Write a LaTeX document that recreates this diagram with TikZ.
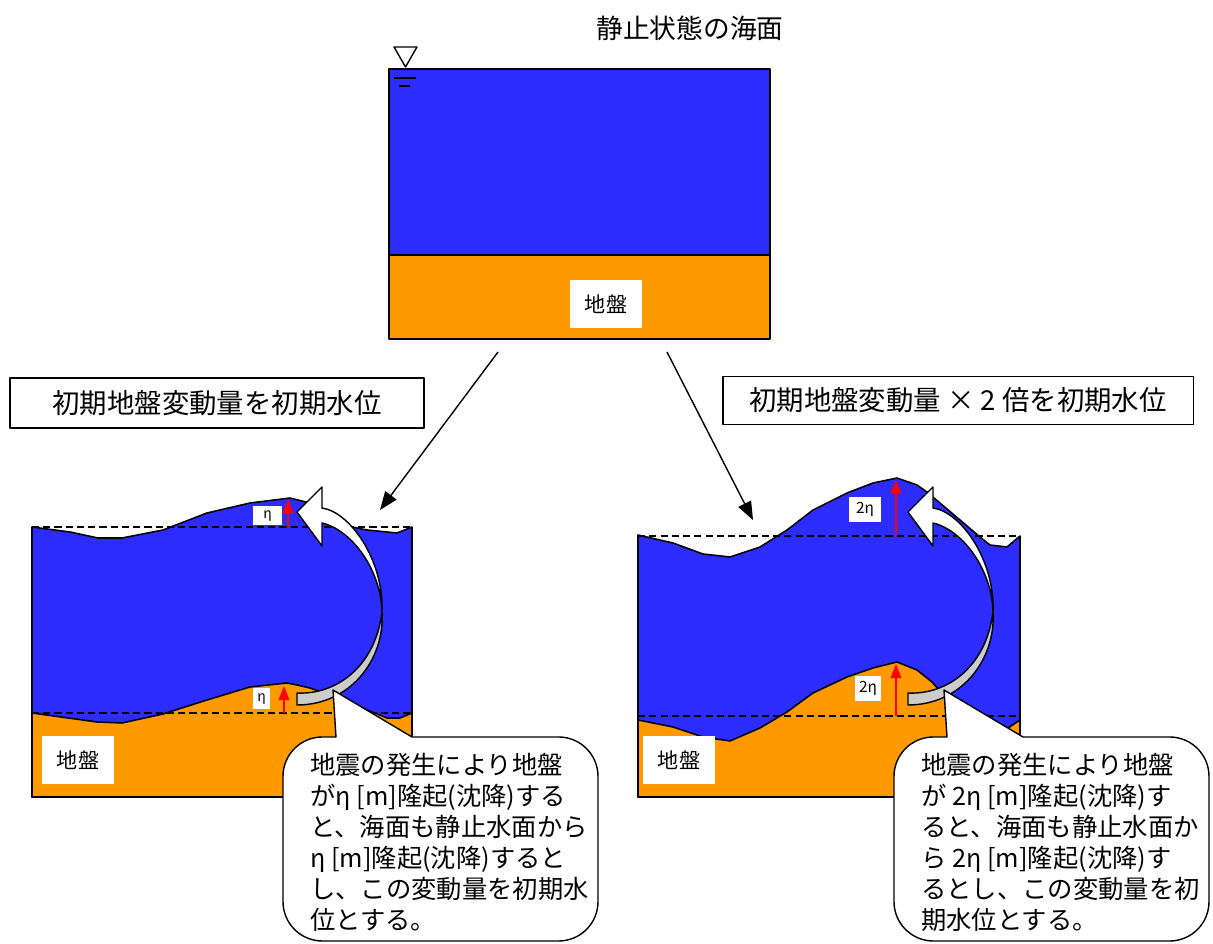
\documentclass[tikz,border=0pt]{standalone}
\usepackage{fontspec}
\newfontfamily\jpfont{Noto Sans CJK JP}
\definecolor{seablue}{RGB}{44,44,255}
\definecolor{groundorange}{RGB}{255,153,0}
\definecolor{bandgray}{RGB}{204,204,204}
\usetikzlibrary{arrows.meta}

\begin{document}
\begin{tikzpicture}[x=0.025cm, y=-0.025cm, line join=round,
  every node/.style={font=\jpfont},
  sea/.style={fill=seablue, draw=black, line width=1.1pt},
  soil/.style={fill=groundorange, draw=black, line width=1.1pt},
  stillline/.style={dash pattern=on 5pt off 3pt, line width=0.9pt},
  lift/.style={red, line width=1.2pt, -{Triangle[length=10pt,width=7.5pt]}},
  link/.style={line width=1pt, -{Triangle[length=13pt,width=10pt]}},
  tag/.style={fill=white, inner sep=0pt, minimum width=1.8cm, minimum height=1.2cm,
              font=\jpfont\fontsize{15}{18}\selectfont},
  etatag/.style={fill=white, inner sep=0pt, font=\jpfont\fontsize{10}{12}\selectfont},
  caselabel/.style={draw, line width=0.8pt, inner sep=0pt,
              font=\jpfont\fontsize{19.5}{22}\selectfont},
  bandfront/.style={fill=white, draw=black, line width=1pt},
  bandback/.style={fill=bandgray, draw=black, line width=1pt},
  bubble/.style={fill=white, draw=black, line width=1pt},
  msg/.style={align=left, inner sep=0pt, anchor=north west,
              font=\jpfont\fontsize{18}{22}\selectfont}]
\useasboundingbox (0,0) rectangle (1213,944);

% sea at rest
\fill[seablue] (389,69) rectangle (770,255);
\fill[groundorange] (389,255) rectangle (770,339);
\draw[line width=1.1pt] (389,69) rectangle (770,339) (389,255) -- (770,255);
\node[tag] (soil0) at (606,304) {地盤};
\node[font=\jpfont\fontsize{19}{22}\selectfont] (title) at (690,28) {静止状態の海面};
% water level mark
\draw[line width=1pt] (394,47) -- (417,47) -- (405.5,67) -- cycle;
\draw[line width=1pt] (394,78) -- (416,78) (399,86) -- (410,86);

% the two cases
\node[caselabel, minimum width=10.35cm, minimum height=1.25cm] (caseA) at (217,403) {初期地盤変動量を初期水位};
\node[caselabel, minimum width=11.75cm, minimum height=1.18cm] (caseB) at (958,400.5) {初期地盤変動量 × 2 倍を初期水位};
\coordinate (fromA) at (498,352);
\coordinate (toA) at (380,510);
\coordinate (fromB) at (667,352);
\coordinate (toB) at (753,520);
\draw[link] (fromA) -- (toA);
\draw[link] (fromB) -- (toB);

% case A: uplift eta
\filldraw[sea] (32,527) -- (70,532) -- (98,538) -- (122,538) -- (163,530) -- (207,513) -- (250,503)
  -- (290,498) -- (310,503) -- (352,527) -- (367,530) -- (397,533) -- (412,527)
  -- (412,797) -- (32,797) -- cycle;
\filldraw[soil] (32,713) -- (97,722) -- (122,723) -- (163,714) -- (207,700) -- (250,687) -- (287,683)
  -- (297,685) -- (310,688) -- (335,697) -- (387,718) -- (400,718) -- (412,713)
  -- (412,797) -- (32,797) -- cycle;
\draw[stillline] (32,527) -- (412,527);
\draw[stillline] (32,713) -- (412,713);
\draw[lift] (288,527) -- (288,499);
\draw[lift] (284,713) -- (284,686);
\node[etatag, minimum width=0.72cm, minimum height=0.48cm] (etaA1) at (267.5,515.5) {η};
\node[etatag, minimum width=0.42cm, minimum height=0.52cm] (etaA2) at (261.5,698.5) {η};
\node[tag] (soilA) at (78,760) {地盤};

% case B: uplift 2 eta
\filldraw[sea] (638,535) -- (673,543) -- (703,554) -- (730,557) -- (760,547) -- (787,530) -- (813,510)
  -- (847,493) -- (873,483) -- (897,478) -- (917,485) -- (927,492) -- (980,537) -- (990,545)
  -- (1007,547) -- (1020,536) -- (1020,797) -- (638,797) -- cycle;
\filldraw[soil] (638,720) -- (673,727) -- (703,737) -- (730,741) -- (760,728) -- (787,712) -- (813,693)
  -- (847,677) -- (873,668) -- (897,662) -- (917,670) -- (932,682) -- (950,702) -- (1008,728)
  -- (1020,720) -- (1020,797) -- (638,797) -- cycle;
\draw[stillline] (638,536) -- (1020,536);
\draw[stillline] (638,716) -- (1020,716);
\draw[lift] (896,536) -- (896,480);
\draw[lift] (896,716) -- (896,664);
\node[etatag, font=\jpfont\fontsize{11}{13}\selectfont, minimum width=0.8cm, minimum height=0.62cm] (etaB1) at (865,509.5) {2η};
\node[etatag, font=\jpfont\fontsize{11}{13}\selectfont, minimum width=0.65cm, minimum height=0.62cm] (etaB2) at (868,688.5) {2η};
\node[tag] (soilB) at (679,760) {地盤};

% bent arrows and speech bubbles
\foreach \dx in {0,611} {
\begin{scope}[shift={(\dx,0)}]
  \filldraw[bandfront] (297,512) -- (322,487) -- (322,508)
    .. controls (350,512) and (384,560) .. (382,612)
    .. controls (381,570) and (352,530) .. (322,523) -- (322,546) -- cycle;
  \filldraw[bandback] (382,612) .. controls (385,660) and (350,705) .. (297,705)
    -- (297,693) .. controls (335,695) and (375,668) .. (382,612) -- cycle;
  \filldraw[bubble] (333,690) -- (336,737) [rounded corners=28pt] -- (283,737) -- (283,941)
    -- (598,941) -- (598,737) [sharp corners] -- (412,737) -- cycle;
\end{scope}
}
\node[msg] (msgA) at (310,753) {地震の発生により地盤\\がη [m]隆起(沈降)する\\と、海面も静止水面から\\η [m]隆起(沈降)すると\\し、この変動量を初期水\\位とする。};
\node[msg] (msgB) at (921,753) {地震の発生により地盤\\が 2η [m]隆起(沈降)す\\ると、海面も静止水面か\\ら 2η [m]隆起(沈降)す\\るとし、この変動量を初\\期水位とする。};
\end{tikzpicture}
\end{document}
